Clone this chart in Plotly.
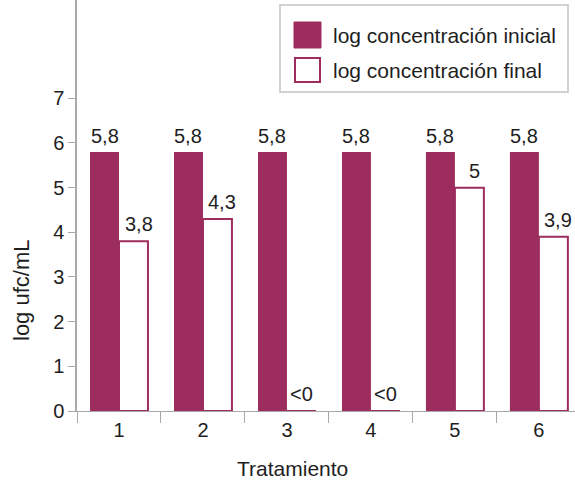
import plotly.graph_objects as go

# Treatment numbers and log counts (log ufc/mL)
tratamientos = [1, 2, 3, 4, 5, 6]
log_inicial = [5.8, 5.8, 5.8, 5.8, 5.8, 5.8]
log_final = [3.8, 4.3, 0, 0, 5.0, 3.9]
etiquetas_inicial = ["5,8", "5,8", "5,8", "5,8", "5,8", "5,8"]
etiquetas_final = ["3,8", "4,3", "<0", "<0", "5", "3,9"]
tick_labels = ["1", "2", "3", "4", "5", "6"]
nombres = ["log concentración inicial", "log concentración final"]

GRANATE = "#9c2d5e"
GRIS = "#a8a8a8"
TEXTO = "#1e1e1e"
FUENTE = "Liberation Sans, Arial, sans-serif"
ANCHO = 0.345

fig = go.Figure()
fig.add_trace(go.Bar(
    x=tratamientos, y=log_inicial, name=nombres[0],
    width=ANCHO, offset=-ANCHO,
    marker=dict(color=GRANATE, line=dict(width=0)),
    showlegend=False,
))
fig.add_trace(go.Bar(
    x=tratamientos, y=log_final, name=nombres[1],
    width=ANCHO, offset=0,
    marker=dict(color="white", line=dict(color=GRANATE, width=2)),
    showlegend=False,
))

# value labels above each bar
for t, v, lab in zip(tratamientos, log_inicial, etiquetas_inicial):
    fig.add_annotation(x=t - ANCHO / 2, y=v, text=lab, showarrow=False,
                       yanchor="bottom", yshift=3,
                       font=dict(size=20, color=TEXTO, family=FUENTE))
for t, v, lab in zip(tratamientos, log_final, etiquetas_final):
    dx = 0.06 if v > 0 else 0
    fig.add_annotation(x=t + ANCHO / 2 + dx, y=v, text=lab, showarrow=False,
                       yanchor="bottom", yshift=4,
                       font=dict(size=20, color=TEXTO, family=FUENTE))

# legend box and axis titles placed in pixel-like paper coordinates
W, H = 575, 480
L, B, PW, PH = 77, 69, 498, 411


def px(x):
    return (x - L) / PW


def py(y):
    return (H - B - y) / PH


fig.add_shape(type="rect", xref="paper", yref="paper",
              x0=px(280), x1=px(568), y0=py(92), y1=py(5),
              line=dict(color="#c4c4c4", width=1.5), fillcolor="white", layer="above")
fig.add_shape(type="rect", xref="paper", yref="paper",
              x0=px(294), x1=px(321), y0=py(48), y1=py(22),
              line=dict(color=GRANATE, width=1), fillcolor=GRANATE, layer="above")
fig.add_shape(type="rect", xref="paper", yref="paper",
              x0=px(295), x1=px(320), y0=py(82), y1=py(58),
              line=dict(color=GRANATE, width=2), fillcolor="white", layer="above")
for nombre, yc in zip(nombres, [35, 70]):
    fig.add_annotation(xref="paper", yref="paper", x=px(331), y=py(yc),
                       text=nombre, showarrow=False, xanchor="left", yanchor="middle",
                       font=dict(size=21, color=TEXTO, family=FUENTE))

fig.add_annotation(xref="paper", yref="paper", x=px(292), y=py(468),
                   text="Tratamiento", showarrow=False,
                   xanchor="center", yanchor="middle",
                   font=dict(size=21, color=TEXTO, family=FUENTE))
fig.add_annotation(xref="paper", yref="paper", x=px(21), y=py(290),
                   text="log ufc/mL", showarrow=False, textangle=-90,
                   xanchor="center", yanchor="middle",
                   font=dict(size=22, color=TEXTO, family=FUENTE))

fig.update_layout(
    width=W, height=H,
    margin=dict(l=L, r=0, t=0, b=B, autoexpand=False),
    plot_bgcolor="white", paper_bgcolor="white",
    font=dict(family=FUENTE, color=TEXTO),
    bargap=0.31, bargroupgap=0,
)
fig.update_xaxes(
    range=[0.5, 6.43], tickvals=tratamientos, ticktext=tick_labels,
    ticks="", showgrid=False, zeroline=False, automargin=False,
    showline=True, linecolor=GRIS, linewidth=1,
    tickfont=dict(size=20, color=TEXTO),
    ticklabelstandoff=1,
    minor=dict(tickvals=[0.5, 1.5, 2.5, 3.5, 4.5, 5.5], ticks="outside",
               ticklen=11, tickcolor=GRIS, tickwidth=1),
)
fig.update_yaxes(
    range=[0, 9.2], tickvals=[0, 1, 2, 3, 4, 5, 6, 7],
    ticks="outside", ticklen=7, tickcolor=GRIS, tickwidth=1,
    showgrid=False, zeroline=False, automargin=False,
    showline=True, linecolor=GRIS, linewidth=1.5,
    tickfont=dict(size=20, color=TEXTO),
)

fig.write_html("out.html")
